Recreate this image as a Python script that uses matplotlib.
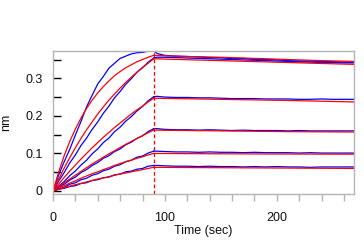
import matplotlib
matplotlib.use('Agg')
import matplotlib.pyplot as plt
from matplotlib.ticker import MultipleLocator

# ---- data ----
t_assoc = [0, 5, 10, 15, 20, 25, 30, 35, 40, 45, 50, 55, 60, 65, 70, 75, 80, 85, 90]

fit_assoc_1 = [0, 0.050, 0.094, 0.132, 0.165, 0.194, 0.220, 0.242, 0.261, 0.278, 0.293, 0.307, 0.318, 0.328, 0.336, 0.344, 0.350, 0.356, 0.361]
data_assoc_1 = [0, 0.042, 0.078, 0.111, 0.149, 0.185, 0.224, 0.255, 0.285, 0.305, 0.327, 0.340, 0.353, 0.359, 0.365, 0.368, 0.369, 0.372, 0.373]
fit_assoc_2 = [0, 0.031, 0.061, 0.089, 0.115, 0.140, 0.163, 0.184, 0.205, 0.224, 0.242, 0.258, 0.274, 0.289, 0.303, 0.316, 0.329, 0.340, 0.352]
data_assoc_2 = [0, 0.026, 0.049, 0.075, 0.096, 0.121, 0.141, 0.164, 0.184, 0.207, 0.226, 0.248, 0.265, 0.284, 0.299, 0.316, 0.328, 0.343, 0.354]
fit_assoc_3 = [0, 0.018, 0.036, 0.053, 0.069, 0.085, 0.100, 0.115, 0.129, 0.143, 0.156, 0.169, 0.181, 0.193, 0.205, 0.216, 0.226, 0.237, 0.247]
data_assoc_3 = [0, 0.013, 0.025, 0.041, 0.053, 0.069, 0.082, 0.099, 0.112, 0.129, 0.141, 0.158, 0.170, 0.186, 0.198, 0.213, 0.225, 0.240, 0.251]
fit_assoc_4 = [0, 0.011, 0.022, 0.032, 0.042, 0.052, 0.062, 0.072, 0.081, 0.090, 0.099, 0.107, 0.116, 0.124, 0.132, 0.140, 0.147, 0.155, 0.162]
data_assoc_4 = [0, 0.010, 0.018, 0.029, 0.037, 0.049, 0.057, 0.068, 0.076, 0.087, 0.094, 0.105, 0.112, 0.123, 0.130, 0.140, 0.147, 0.158, 0.166]
fit_assoc_5 = [0, 0.007, 0.014, 0.021, 0.027, 0.034, 0.040, 0.046, 0.051, 0.057, 0.062, 0.068, 0.073, 0.078, 0.082, 0.087, 0.091, 0.096, 0.100]
data_assoc_5 = [0, 0.006, 0.010, 0.018, 0.022, 0.030, 0.034, 0.042, 0.046, 0.054, 0.058, 0.066, 0.070, 0.078, 0.082, 0.090, 0.093, 0.101, 0.106]
fit_assoc_6 = [0, 0.004, 0.009, 0.013, 0.017, 0.020, 0.024, 0.028, 0.032, 0.035, 0.038, 0.042, 0.045, 0.048, 0.051, 0.054, 0.057, 0.060, 0.063]
data_assoc_6 = [0, 0.005, 0.007, 0.012, 0.014, 0.020, 0.022, 0.028, 0.030, 0.035, 0.037, 0.043, 0.045, 0.051, 0.053, 0.058, 0.060, 0.066, 0.068]

t_diss_fit = [90, 120, 150, 180, 210, 240, 270]
fit_diss_1 = [0.361, 0.358, 0.356, 0.353, 0.350, 0.347, 0.345]
fit_diss_2 = [0.352, 0.3495, 0.347, 0.3445, 0.342, 0.3395, 0.337]
fit_diss_3 = [0.247, 0.2455, 0.244, 0.2425, 0.241, 0.239, 0.237]
fit_diss_4 = [0.162, 0.161, 0.160, 0.159, 0.158, 0.1575, 0.157]
fit_diss_5 = [0.100, 0.0995, 0.099, 0.0987, 0.0984, 0.0982, 0.098]
fit_diss_6 = [0.063, 0.0625, 0.062, 0.0615, 0.061, 0.0605, 0.060]

t_diss_data = [90, 93, 100, 110, 120, 130, 140, 150, 160, 170, 180, 190, 200, 210, 220, 230, 240, 250, 260, 270]
data_diss_1 = [0.373, 0.366, 0.361, 0.359, 0.358, 0.357, 0.355, 0.355, 0.352, 0.353, 0.350, 0.350, 0.349, 0.347, 0.346, 0.346, 0.345, 0.344, 0.343, 0.343]
data_diss_2 = [0.354, 0.356, 0.356, 0.355, 0.354, 0.353, 0.352, 0.351, 0.350, 0.349, 0.348, 0.347, 0.346, 0.345, 0.344, 0.343, 0.342, 0.342, 0.341, 0.341]
data_diss_3 = [0.251, 0.252, 0.250, 0.249, 0.249, 0.248, 0.248, 0.247, 0.246, 0.246, 0.246, 0.245, 0.245, 0.245, 0.244, 0.244, 0.245, 0.244, 0.244, 0.244]
data_diss_4 = [0.166, 0.166, 0.164, 0.163, 0.163, 0.162, 0.163, 0.162, 0.161, 0.162, 0.161, 0.161, 0.161, 0.160, 0.161, 0.160, 0.160, 0.160, 0.160, 0.160]
data_diss_5 = [0.106, 0.106, 0.105, 0.104, 0.104, 0.103, 0.104, 0.103, 0.103, 0.102, 0.103, 0.102, 0.102, 0.102, 0.101, 0.102, 0.101, 0.101, 0.101, 0.101]
data_diss_6 = [0.068, 0.068, 0.067, 0.066, 0.066, 0.065, 0.066, 0.065, 0.065, 0.064, 0.065, 0.064, 0.065, 0.064, 0.064, 0.063, 0.064, 0.064, 0.064, 0.064]

switch_time = 90
x_label = "Time (sec)"
y_label = "nm"

# ---- figure ----
plt.rcParams['font.family'] = ['Liberation Sans', 'DejaVu Sans']
fig = plt.figure(figsize=(3.64, 2.44), dpi=100)
ax = fig.add_axes([53/364, 50/244, (354-53)/364, (194-50.5)/244])

blue = '#0000ff'
red = '#ff0000'
lw = 0.9

data_assoc = [data_assoc_1, data_assoc_2, data_assoc_3, data_assoc_4, data_assoc_5, data_assoc_6]
fit_assoc = [fit_assoc_1, fit_assoc_2, fit_assoc_3, fit_assoc_4, fit_assoc_5, fit_assoc_6]
data_diss = [data_diss_1, data_diss_2, data_diss_3, data_diss_4, data_diss_5, data_diss_6]
fit_diss = [fit_diss_1, fit_diss_2, fit_diss_3, fit_diss_4, fit_diss_5, fit_diss_6]

for da, fa, dd, fd in zip(data_assoc, fit_assoc, data_diss, fit_diss):
    ax.plot(t_assoc, da, color=blue, lw=lw)
    ax.plot(t_diss_data, dd, color=blue, lw=lw)
    ax.plot(t_assoc, fa, color=red, lw=lw)
    ax.plot(t_diss_fit, fd, color=red, lw=lw)

ax.axvline(switch_time, color=red, lw=0.9, ls=(0, (3, 2)))

ax.set_xlim(0, 269)
ax.set_ylim(-0.008, 0.374)

ax.xaxis.set_major_locator(MultipleLocator(100))
ax.xaxis.set_minor_locator(MultipleLocator(20))
ax.yaxis.set_major_locator(MultipleLocator(0.1))
ax.yaxis.set_minor_locator(MultipleLocator(0.05))
ax.yaxis.set_major_formatter(plt.FuncFormatter(lambda v, p: '0' if abs(v) < 1e-9 else f'{v:.1f}'))

for s in ax.spines.values():
    s.set_color('#b4b4b4')
    s.set_linewidth(1.0)

ax.tick_params(axis='y', which='both', direction='in', length=6, width=1.0,
               color='black', labelsize=9, pad=7.5, labelcolor='#101010')
ax.tick_params(axis='x', which='both', direction='out', length=5, width=1.0,
               color='#b4b4b4', labelsize=9, pad=8, labelcolor='#101010')

ax.set_xlabel(x_label, fontsize=9, color='#101010', labelpad=0.5)
ax.set_ylabel(y_label, fontsize=9, color='#101010')
ax.yaxis.set_label_coords(-0.137, 0.5)

fig.savefig('out.png', dpi=100)
